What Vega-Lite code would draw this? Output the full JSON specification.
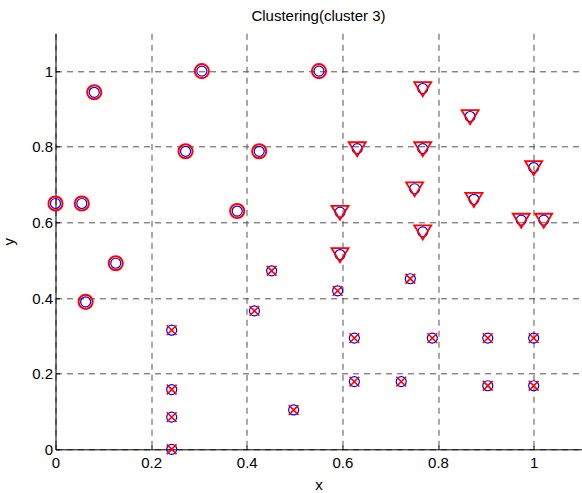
{
  "$schema": "https://vega.github.io/schema/vega-lite/v6.json",
  "autosize": "none",
  "padding": {"left": 55.5, "top": 33.3, "right": 0, "bottom": 44},
  "width": 526,
  "height": 416,
  "background": "white",
  "title": {"text": "Clustering(cluster 3)", "font": "Liberation Sans", "fontSize": 15, "fontWeight": "normal", "color": "black", "offset": 9},
  "config": {"view": {"stroke": null}},
  "data": {"values": [
    {"x": 0.0, "y": 0.65, "c": "c1"},
    {"x": 0.081, "y": 0.944, "c": "c1"},
    {"x": 0.306, "y": 1.0, "c": "c1"},
    {"x": 0.272, "y": 0.788, "c": "c1"},
    {"x": 0.426, "y": 0.788, "c": "c1"},
    {"x": 0.551, "y": 1.0, "c": "c1"},
    {"x": 0.055, "y": 0.65, "c": "c1"},
    {"x": 0.38, "y": 0.63, "c": "c1"},
    {"x": 0.126, "y": 0.492, "c": "c1"},
    {"x": 0.063, "y": 0.39, "c": "c1"},
    {"x": 0.768, "y": 0.954, "c": "c2"},
    {"x": 0.867, "y": 0.88, "c": "c2"},
    {"x": 0.631, "y": 0.795, "c": "c2"},
    {"x": 0.768, "y": 0.795, "c": "c2"},
    {"x": 1.0, "y": 0.745, "c": "c2"},
    {"x": 0.751, "y": 0.689, "c": "c2"},
    {"x": 0.875, "y": 0.661, "c": "c2"},
    {"x": 0.595, "y": 0.627, "c": "c2"},
    {"x": 0.974, "y": 0.606, "c": "c2"},
    {"x": 1.021, "y": 0.606, "c": "c2"},
    {"x": 0.768, "y": 0.575, "c": "c2"},
    {"x": 0.595, "y": 0.515, "c": "c2"},
    {"x": 0.452, "y": 0.472, "c": "c3"},
    {"x": 0.416, "y": 0.366, "c": "c3"},
    {"x": 0.243, "y": 0.315, "c": "c3"},
    {"x": 0.243, "y": 0.158, "c": "c3"},
    {"x": 0.243, "y": 0.085, "c": "c3"},
    {"x": 0.243, "y": 0.0, "c": "c3"},
    {"x": 0.498, "y": 0.104, "c": "c3"},
    {"x": 0.742, "y": 0.451, "c": "c3"},
    {"x": 0.59, "y": 0.419, "c": "c3"},
    {"x": 0.625, "y": 0.294, "c": "c3"},
    {"x": 0.788, "y": 0.294, "c": "c3"},
    {"x": 0.904, "y": 0.294, "c": "c3"},
    {"x": 1.0, "y": 0.294, "c": "c3"},
    {"x": 0.625, "y": 0.179, "c": "c3"},
    {"x": 0.723, "y": 0.179, "c": "c3"},
    {"x": 0.904, "y": 0.168, "c": "c3"},
    {"x": 1.0, "y": 0.168, "c": "c3"}
  ]},
  "encoding": {
    "x": {"field": "x", "type": "quantitative",
      "scale": {"domain": [0, 1.1], "nice": false, "zero": false},
      "axis": {"values": [0, 0.2, 0.4, 0.6, 0.8, 1], "format": "~g", "title": "x", "titleFont": "Liberation Sans", "titleFontSize": 15, "titleFontWeight": "normal", "titleColor": "black", "titlePadding": 7,
        "labelFont": "Liberation Sans", "labelFontSize": 15, "labelColor": "black", "labelPadding": 10, "labelFlush": false,
        "domainColor": "black", "domainWidth": 1, "tickColor": "black", "tickSize": -4, "tickWidth": 1,
        "grid": true, "gridColor": "#505050", "gridDash": [6, 5], "gridWidth": 1, "gridOpacity": 1}},
    "y": {"field": "y", "type": "quantitative",
      "scale": {"domain": [0, 1.1], "nice": false, "zero": false},
      "axis": {"values": [0, 0.2, 0.4, 0.6, 0.8, 1], "format": "~g", "title": "y", "titleFont": "Liberation Sans", "titleFontSize": 15, "titleFontWeight": "normal", "titleColor": "black", "titlePadding": 15,
        "labelFont": "Liberation Sans", "labelFontSize": 15, "labelColor": "black", "labelPadding": 7, "labelFlush": false,
        "domainColor": "black", "domainWidth": 1, "tickColor": "black", "tickSize": -4, "tickWidth": 1,
        "grid": true, "gridColor": "#505050", "gridDash": [6, 5], "gridWidth": 1, "gridOpacity": 1}}
  },
  "layer": [
    {"mark": {"type": "point", "shape": "circle", "filled": false, "stroke": "#0000ff", "strokeWidth": 1.2, "size": 100, "opacity": 1}},
    {"transform": [{"filter": "datum.c === 'c1'"}],
     "mark": {"type": "point", "shape": "circle", "filled": false, "stroke": "#ff0000", "strokeWidth": 2, "size": 200, "opacity": 1}},
    {"transform": [{"filter": "datum.c === 'c2'"}],
     "mark": {"type": "point", "shape": "M-1,-0.75L1,-0.75L0,0.9Z", "filled": false, "stroke": "#ff0000", "strokeWidth": 1.8, "size": 289, "opacity": 1}},
    {"transform": [{"filter": "datum.c === 'c3'"}],
     "mark": {"type": "point", "shape": "M-1,-1L1,1M-1,1L1,-1", "filled": false, "stroke": "#ff0000", "strokeWidth": 1.6, "size": 95, "opacity": 1}}
  ]
}
